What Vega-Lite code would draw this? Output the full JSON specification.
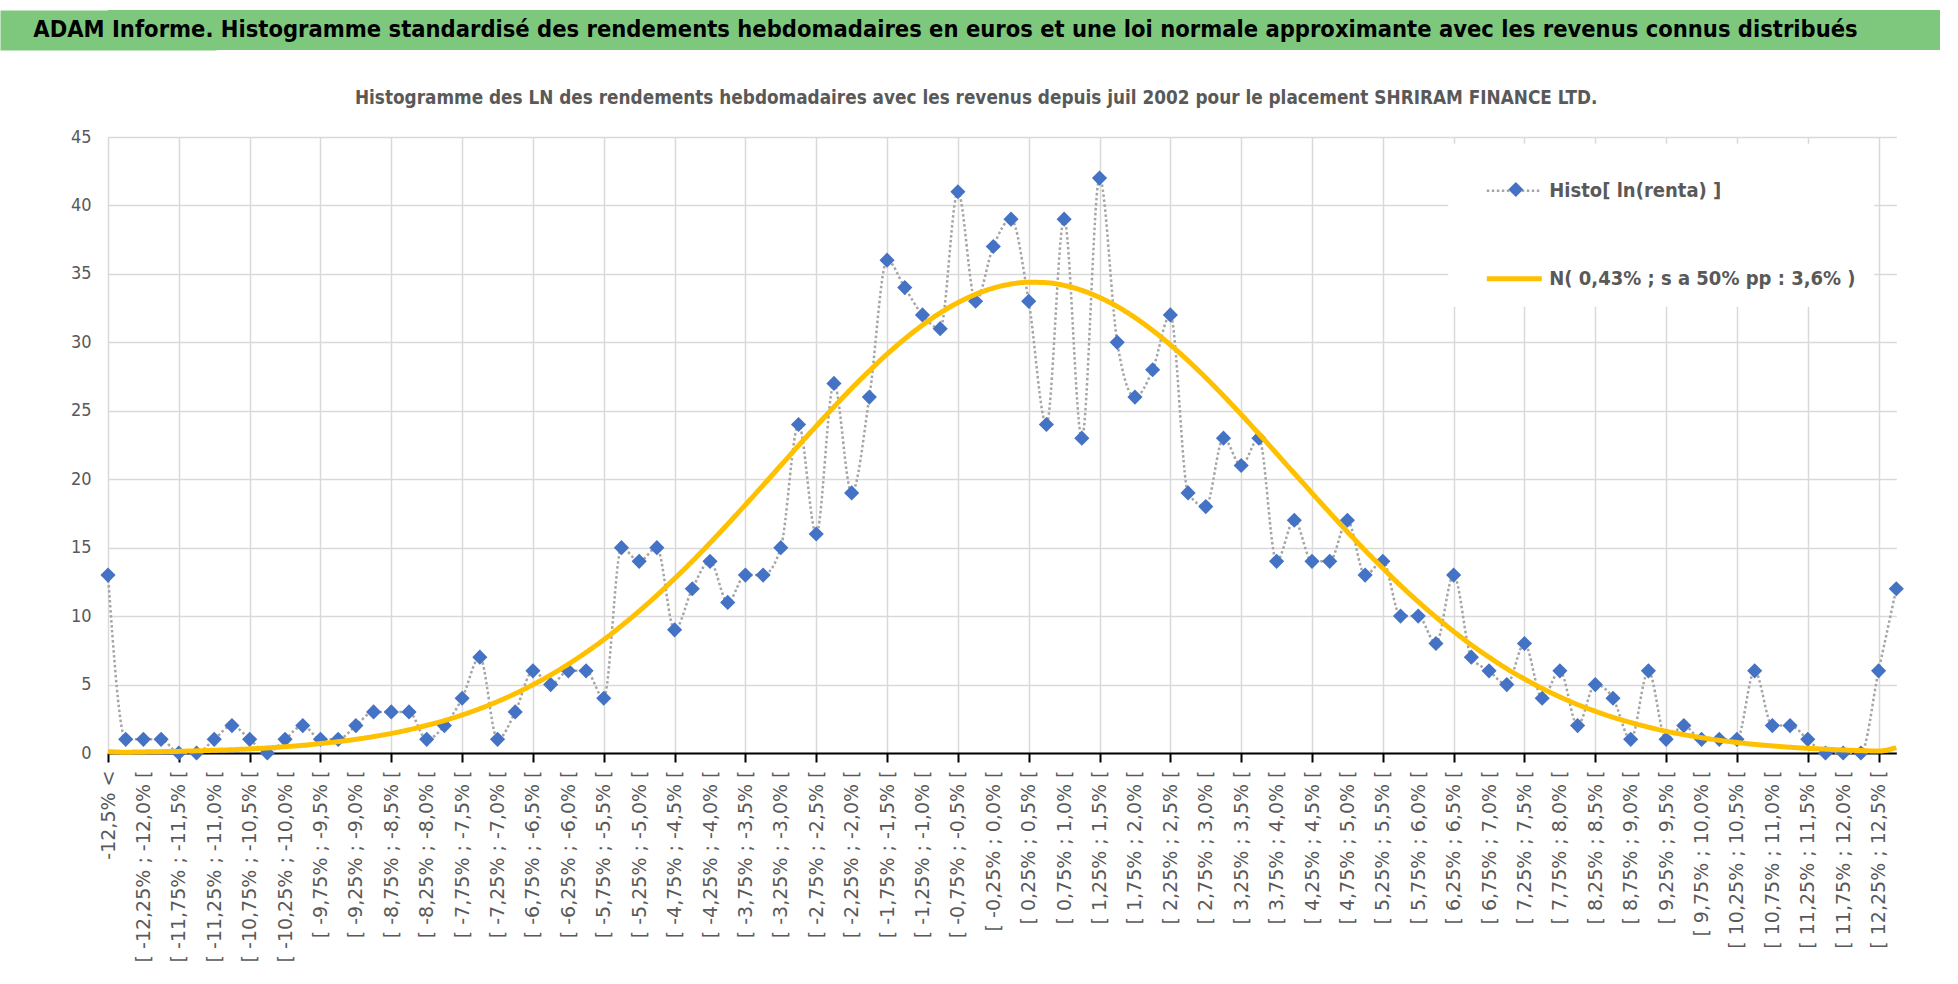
{
  "$schema": "https://vega.github.io/schema/vega-lite/v6.json",
  "background": "white",
  "padding": {"left": 0, "top": 10, "right": 0, "bottom": 0},
  "config": {"view": {"stroke": null}},
  "columns": 1,
  "spacing": 39,
  "resolve": {
    "scale": {"color": "independent", "shape": "independent", "strokeDash": "independent", "strokeWidth": "independent"},
    "legend": {"color": "independent", "shape": "independent", "strokeDash": "independent", "strokeWidth": "independent"}
  },
  "concat": [
    {
      "width": 1832,
      "height": 40,
      "view": {"fill": "#7EC87E", "stroke": null},
      "data": {"values": [{"t": "ADAM Informe. Histogramme standardisé des rendements hebdomadaires en euros et une loi normale approximante avec les revenus connus distribués"}]},
      "mark": {"type": "text", "font": "DejaVu Sans Condensed", "fontSize": 23.5, "fontWeight": "bold", "color": "#000000", "dx": -78.5},
      "encoding": {
        "text": {"field": "t"},
        "y": {
          "datum": "bar",
          "type": "nominal",
          "scale": {"type": "point", "padding": 0.5},
          "axis": {"title": null, "labels": false, "ticks": false, "grid": false, "domainColor": "#7EC87E", "domainWidth": 216, "domainCap": "butt"}
        }
      }
    },
    {
      "width": 1788.3,
      "height": 616,
      "title": {
        "text": "Histogramme des LN des rendements hebdomadaires avec les revenus depuis juil 2002 pour le placement SHRIRAM FINANCE LTD.",
        "font": "DejaVu Sans Condensed",
        "fontSize": 18.8,
        "fontWeight": "bold",
        "color": "#595959",
        "anchor": "middle",
        "frame": "group",
        "baseline": "middle",
        "dx": -26,
        "offset": 11
      },
      "data": {"values": [
        {"c": "-12,5% <", "h": 13, "n": 0.1},
        {"c": "[ -12,5% ; -12,25% [", "h": 1, "n": 0.06},
        {"c": "[ -12,25% ; -12,0% [", "h": 1, "n": 0.08},
        {"c": "[ -12,0% ; -11,75% [", "h": 1, "n": 0.1},
        {"c": "[ -11,75% ; -11,5% [", "h": 0, "n": 0.12},
        {"c": "[ -11,5% ; -11,25% [", "h": 0, "n": 0.16},
        {"c": "[ -11,25% ; -11,0% [", "h": 1, "n": 0.2},
        {"c": "[ -11,0% ; -10,75% [", "h": 2, "n": 0.24},
        {"c": "[ -10,75% ; -10,5% [", "h": 1, "n": 0.3},
        {"c": "[ -10,5% ; -10,25% [", "h": 0, "n": 0.37},
        {"c": "[ -10,25% ; -10,0% [", "h": 1, "n": 0.46},
        {"c": "[ -10,0% ; -9,75% [", "h": 2, "n": 0.56},
        {"c": "[ -9,75% ; -9,5% [", "h": 1, "n": 0.69},
        {"c": "[ -9,5% ; -9,25% [", "h": 1, "n": 0.83},
        {"c": "[ -9,25% ; -9,0% [", "h": 2, "n": 1.0},
        {"c": "[ -9,0% ; -8,75% [", "h": 3, "n": 1.2},
        {"c": "[ -8,75% ; -8,5% [", "h": 3, "n": 1.43},
        {"c": "[ -8,5% ; -8,25% [", "h": 3, "n": 1.7},
        {"c": "[ -8,25% ; -8,0% [", "h": 1, "n": 2.02},
        {"c": "[ -8,0% ; -7,75% [", "h": 2, "n": 2.37},
        {"c": "[ -7,75% ; -7,5% [", "h": 4, "n": 2.78},
        {"c": "[ -7,5% ; -7,25% [", "h": 7, "n": 3.24},
        {"c": "[ -7,25% ; -7,0% [", "h": 1, "n": 3.76},
        {"c": "[ -7,0% ; -6,75% [", "h": 3, "n": 4.34},
        {"c": "[ -6,75% ; -6,5% [", "h": 6, "n": 4.99},
        {"c": "[ -6,5% ; -6,25% [", "h": 5, "n": 5.7},
        {"c": "[ -6,25% ; -6,0% [", "h": 6, "n": 6.49},
        {"c": "[ -6,0% ; -5,75% [", "h": 6, "n": 7.35},
        {"c": "[ -5,75% ; -5,5% [", "h": 4, "n": 8.28},
        {"c": "[ -5,5% ; -5,25% [", "h": 15, "n": 9.29},
        {"c": "[ -5,25% ; -5,0% [", "h": 14, "n": 10.37},
        {"c": "[ -5,0% ; -4,75% [", "h": 15, "n": 11.52},
        {"c": "[ -4,75% ; -4,5% [", "h": 9, "n": 12.74},
        {"c": "[ -4,5% ; -4,25% [", "h": 12, "n": 14.01},
        {"c": "[ -4,25% ; -4,0% [", "h": 14, "n": 15.34},
        {"c": "[ -4,0% ; -3,75% [", "h": 11, "n": 16.72},
        {"c": "[ -3,75% ; -3,5% [", "h": 13, "n": 18.13},
        {"c": "[ -3,5% ; -3,25% [", "h": 13, "n": 19.56},
        {"c": "[ -3,25% ; -3,0% [", "h": 15, "n": 21.01},
        {"c": "[ -3,0% ; -2,75% [", "h": 24, "n": 22.46},
        {"c": "[ -2,75% ; -2,5% [", "h": 16, "n": 23.88},
        {"c": "[ -2,5% ; -2,25% [", "h": 27, "n": 25.28},
        {"c": "[ -2,25% ; -2,0% [", "h": 19, "n": 26.64},
        {"c": "[ -2,0% ; -1,75% [", "h": 26, "n": 27.92},
        {"c": "[ -1,75% ; -1,5% [", "h": 36, "n": 29.14},
        {"c": "[ -1,5% ; -1,25% [", "h": 34, "n": 30.25},
        {"c": "[ -1,25% ; -1,0% [", "h": 32, "n": 31.26},
        {"c": "[ -1,0% ; -0,75% [", "h": 31, "n": 32.15},
        {"c": "[ -0,75% ; -0,5% [", "h": 41, "n": 32.9},
        {"c": "[ -0,5% ; -0,25% [", "h": 33, "n": 33.51},
        {"c": "[ -0,25% ; 0,0% [", "h": 37, "n": 33.96},
        {"c": "[ 0,0% ; 0,25% [", "h": 39, "n": 34.26},
        {"c": "[ 0,25% ; 0,5% [", "h": 33, "n": 34.39},
        {"c": "[ 0,5% ; 0,75% [", "h": 24, "n": 34.36},
        {"c": "[ 0,75% ; 1,0% [", "h": 39, "n": 34.16},
        {"c": "[ 1,0% ; 1,25% [", "h": 23, "n": 33.8},
        {"c": "[ 1,25% ; 1,5% [", "h": 42, "n": 33.28},
        {"c": "[ 1,5% ; 1,75% [", "h": 30, "n": 32.62},
        {"c": "[ 1,75% ; 2,0% [", "h": 26, "n": 31.81},
        {"c": "[ 2,0% ; 2,25% [", "h": 28, "n": 30.87},
        {"c": "[ 2,25% ; 2,5% [", "h": 32, "n": 29.82},
        {"c": "[ 2,5% ; 2,75% [", "h": 19, "n": 28.66},
        {"c": "[ 2,75% ; 3,0% [", "h": 18, "n": 27.42},
        {"c": "[ 3,0% ; 3,25% [", "h": 23, "n": 26.1},
        {"c": "[ 3,25% ; 3,5% [", "h": 21, "n": 24.73},
        {"c": "[ 3,5% ; 3,75% [", "h": 23, "n": 23.32},
        {"c": "[ 3,75% ; 4,0% [", "h": 14, "n": 21.88},
        {"c": "[ 4,0% ; 4,25% [", "h": 17, "n": 20.43},
        {"c": "[ 4,25% ; 4,5% [", "h": 14, "n": 18.99},
        {"c": "[ 4,5% ; 4,75% [", "h": 14, "n": 17.56},
        {"c": "[ 4,75% ; 5,0% [", "h": 17, "n": 16.16},
        {"c": "[ 5,0% ; 5,25% [", "h": 13, "n": 14.8},
        {"c": "[ 5,25% ; 5,5% [", "h": 14, "n": 13.5},
        {"c": "[ 5,5% ; 5,75% [", "h": 10, "n": 12.24},
        {"c": "[ 5,75% ; 6,0% [", "h": 10, "n": 11.05},
        {"c": "[ 6,0% ; 6,25% [", "h": 8, "n": 9.93},
        {"c": "[ 6,25% ; 6,5% [", "h": 13, "n": 8.88},
        {"c": "[ 6,5% ; 6,75% [", "h": 7, "n": 7.9},
        {"c": "[ 6,75% ; 7,0% [", "h": 6, "n": 7.0},
        {"c": "[ 7,0% ; 7,25% [", "h": 5, "n": 6.16},
        {"c": "[ 7,25% ; 7,5% [", "h": 8, "n": 5.41},
        {"c": "[ 7,5% ; 7,75% [", "h": 4, "n": 4.72},
        {"c": "[ 7,75% ; 8,0% [", "h": 6, "n": 4.1},
        {"c": "[ 8,0% ; 8,25% [", "h": 2, "n": 3.54},
        {"c": "[ 8,25% ; 8,5% [", "h": 5, "n": 3.05},
        {"c": "[ 8,5% ; 8,75% [", "h": 4, "n": 2.61},
        {"c": "[ 8,75% ; 9,0% [", "h": 1, "n": 2.23},
        {"c": "[ 9,0% ; 9,25% [", "h": 6, "n": 1.89},
        {"c": "[ 9,25% ; 9,5% [", "h": 1, "n": 1.59},
        {"c": "[ 9,5% ; 9,75% [", "h": 2, "n": 1.34},
        {"c": "[ 9,75% ; 10,0% [", "h": 1, "n": 1.12},
        {"c": "[ 10,0% ; 10,25% [", "h": 1, "n": 0.93},
        {"c": "[ 10,25% ; 10,5% [", "h": 1, "n": 0.77},
        {"c": "[ 10,5% ; 10,75% [", "h": 6, "n": 0.63},
        {"c": "[ 10,75% ; 11,0% [", "h": 2, "n": 0.52},
        {"c": "[ 11,0% ; 11,25% [", "h": 2, "n": 0.42},
        {"c": "[ 11,25% ; 11,5% [", "h": 1, "n": 0.34},
        {"c": "[ 11,5% ; 11,75% [", "h": 0, "n": 0.28},
        {"c": "[ 11,75% ; 12,0% [", "h": 0, "n": 0.22},
        {"c": "[ 12,0% ; 12,25% [", "h": 0, "n": 0.18},
        {"c": "[ 12,25% ; 12,5% [", "h": 6, "n": 0.14},
        {"c": "12,5% >", "h": 12, "n": 0.4}
      ]},
      "encoding": {
        "x": {
          "field": "c",
          "type": "nominal",
          "sort": null,
          "scale": {"type": "point", "padding": 0},
          "axis": {
            "title": null,
            "domainColor": "#000000",
            "domainWidth": 2,
            "tickColor": "#000000",
            "tickWidth": 2,
            "tickSize": 9,
            "tickOpacity": {"condition": {"test": "round(datum.index*101) % 4 === 0", "value": 1}, "value": 0},
            "grid": true,
            "gridColor": "#D9D9D9",
            "gridWidth": 1.5,
            "gridOpacity": {"condition": {"test": "round(datum.index*101) % 4 === 0", "value": 1}, "value": 0},
            "labelExpr": "round(datum.index*101) % 2 === 0 ? datum.label : ''",
            "labelAngle": 270,
            "labelAlign": "right",
            "labelBaseline": "middle",
            "labelFont": "DejaVu Sans",
            "labelFontSize": 19,
            "labelColor": "#595959",
            "labelPadding": 8,
            "labelOverlap": false,
            "labelBound": false,
            "labelLimit": 0
          }
        }
      },
      "layer": [
        {
          "mark": {"type": "line", "interpolate": "monotone"},
          "encoding": {
            "y": {
              "field": "h",
              "type": "quantitative",
              "scale": {"domain": [0, 45], "nice": false},
              "axis": {
                "title": null,
                "values": [0, 5, 10, 15, 20, 25, 30, 35, 40, 45],
                "domain": false,
                "ticks": false,
                "labelFont": "DejaVu Sans Condensed",
                "labelFontSize": 18,
                "labelColor": "#595959",
                "labelPadding": 17,
                "gridColor": "#D9D9D9",
                "gridWidth": 1.5,
                "minExtent": 108
              }
            },
            "color": {
              "datum": "h",
              "type": "nominal",
              "scale": {"domain": ["h", "n"], "range": ["#A5A5A5", "#FFC000"]},
              "legend": {
                "title": " ", "titleOrient": "left", "titlePadding": 18, "titleFontSize": 20,
                "orient": "none", "legendX": 1340.3, "legendY": 6.7,
                "symbolType": "stroke", "symbolSize": 3025, "rowPadding": 48,
                "labelExpr": "datum.value === 'h' ? 'Histo[ ln(renta) ]' : 'N( 0,43% ; s a 50% pp : 3,6% )'",
                "labelFont": "DejaVu Sans Condensed", "labelFontSize": 20, "labelFontWeight": "bold",
                "labelColor": "#595959", "labelOffset": 5, "labelLimit": 0,
                "padding": 18, "fillColor": "white", "zindex": 1
              }
            },
            "strokeDash": {
              "datum": "h",
              "type": "nominal",
              "scale": {"domain": ["h", "n"], "range": [[2.5, 2.5], [1, 0]]},
              "legend": {
                "title": " ", "titleOrient": "left", "titlePadding": 18, "titleFontSize": 20,
                "orient": "none", "legendX": 1340.3, "legendY": 6.7,
                "symbolType": "stroke", "symbolSize": 3025, "rowPadding": 48,
                "labelExpr": "datum.value === 'h' ? 'Histo[ ln(renta) ]' : 'N( 0,43% ; s a 50% pp : 3,6% )'",
                "labelFont": "DejaVu Sans Condensed", "labelFontSize": 20, "labelFontWeight": "bold",
                "labelColor": "#595959", "labelOffset": 5, "labelLimit": 0,
                "padding": 18, "fillColor": "white", "zindex": 1
              }
            },
            "strokeWidth": {
              "datum": "h",
              "type": "ordinal",
              "scale": {"domain": ["h", "n"], "range": [2.5, 5]},
              "legend": {
                "title": " ", "titleOrient": "left", "titlePadding": 18, "titleFontSize": 20,
                "orient": "none", "legendX": 1340.3, "legendY": 6.7,
                "symbolType": "stroke", "symbolSize": 3025, "rowPadding": 48,
                "labelExpr": "datum.value === 'h' ? 'Histo[ ln(renta) ]' : 'N( 0,43% ; s a 50% pp : 3,6% )'",
                "labelFont": "DejaVu Sans Condensed", "labelFontSize": 20, "labelFontWeight": "bold",
                "labelColor": "#595959", "labelOffset": 5, "labelLimit": 0,
                "padding": 18, "fillColor": "white", "zindex": 1
              }
            }
          }
        },
        {
          "mark": {"type": "point", "shape": "diamond", "filled": true, "size": 230, "color": "#4472C4", "opacity": 1},
          "encoding": {
            "y": {"field": "h", "type": "quantitative"},
            "shape": {
              "datum": "d",
              "type": "nominal",
              "scale": {"domain": ["d"], "range": ["diamond"]},
              "legend": {
                "title": null, "orient": "none", "legendX": 1400.3, "legendY": 45,
                "symbolSize": 225, "symbolFillColor": "#4472C4", "symbolStrokeWidth": 0,
                "labelExpr": "''", "labelFontSize": 1, "padding": 0, "zindex": 2
              }
            }
          }
        },
        {
          "mark": {"type": "line", "interpolate": "monotone"},
          "encoding": {
            "y": {"field": "n", "type": "quantitative"},
            "color": {"datum": "n", "type": "nominal"},
            "strokeDash": {"datum": "n", "type": "nominal"},
            "strokeWidth": {"datum": "n", "type": "ordinal"}
          }
        }
      ]
    }
  ]
}
